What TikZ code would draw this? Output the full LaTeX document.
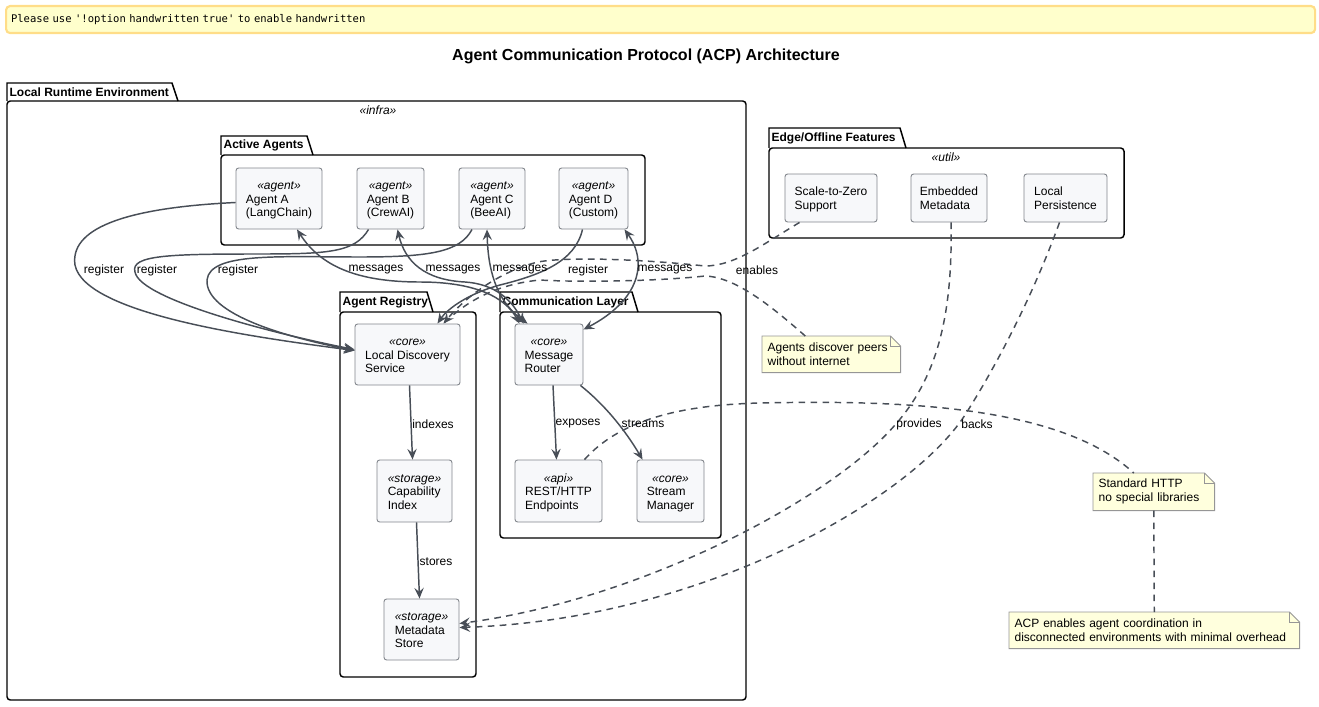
\documentclass[tikz,border=0pt]{standalone}
\usepackage{fontspec}
\setmainfont{Liberation Sans}
\newfontfamily\bannerfont{DejaVu Sans Mono}
\usetikzlibrary{arrows.meta,calc,backgrounds}
\definecolor{edgecol}{RGB}{72,78,87}
\definecolor{compfill}{RGB}{247,248,250}
\definecolor{compdraw}{RGB}{130,134,140}
\definecolor{notefill}{RGB}{255,255,221}
\definecolor{notedraw}{RGB}{150,150,150}
\definecolor{bannerfill}{RGB}{255,255,204}
\definecolor{bannerdraw}{RGB}{255,221,136}
\newcommand\stereo[2]{\raisebox{-1.5pt}[\height][\depth]{\begin{tabular}{@{}l@{}}\multicolumn{1}{@{}c@{}}{\itshape «#1»}\\#2\end{tabular}}}
\newcommand\twol[1]{\raisebox{-1.5pt}[\height][\depth]{\begin{tabular}{@{}l@{}}#1\end{tabular}}}
\newcommand\pkgbox[8]{%
  \draw[pkgline] (#2,#5) -- (#2,#3) -- ({#4-6},#3) -- (#4,#5);
  \draw[pkgline,rounded corners=2.5] (#2,#5) rectangle (#6,#7);
  \node[pkglabel,anchor=west] (#1) at ({#2+1},{(#3+#5)/2}) {#8};}
\newcommand\notefold[1]{%
  \begin{scope}[on background layer]
  \draw[draw=notedraw,fill=notefill,line width=0.7pt] (#1.north west) -- ($(#1.north east)+(-10,0)$) -- ($(#1.north east)+(0,10)$) -- (#1.south east) -- (#1.south west) -- cycle;
  \draw[draw=notedraw,line width=0.7pt] ($(#1.north east)+(-10,0)$) -- ($(#1.north east)+(-10,10)$) -- ($(#1.north east)+(0,10)$);
  \end{scope}}
\begin{document}
\begin{tikzpicture}[x=0.75pt,y=-0.75pt,
  pkgline/.style={draw=black,line width=1.1pt},
  pkglabel/.style={font=\bfseries\fontsize{9}{11}\selectfont,inner sep=1pt},
  comp/.style={draw=compdraw,fill=compfill,line width=0.7pt,rounded corners=2pt,inner sep=0pt,font=\fontsize{9}{10.2}\selectfont},
  lbl/.style={font=\fontsize{9}{11}\selectfont,inner sep=1pt},
  stereolbl/.style={font=\itshape\fontsize{9}{11}\selectfont,inner sep=1pt},
  conn/.style={draw=edgecol,line width=1.1pt},
  dconn/.style={conn,dash pattern=on 5pt off 4pt},
  arr/.style={-{Stealth[length=8pt,width=7pt,inset=3pt]}},
  barr/.style={{Stealth[length=8pt,width=7pt,inset=3pt]}-{Stealth[length=8pt,width=7pt,inset=3pt]}},
  notebox/.style={anchor=north west,inner xsep=4pt,inner ysep=0pt,align=left,font=\fontsize{9}{10.5}\selectfont}
]
\useasboundingbox (0,0) rectangle (1319,706);

% banner
\node[draw=bannerdraw,fill=bannerfill,line width=1.6pt,rounded corners=3pt,anchor=north west,
  minimum height=20.25pt,text width=974.25pt,inner xsep=3.75pt,align=left,
  font=\bannerfont\fontsize{7.9}{9}\selectfont] (banner) at (5,5)
  {Please use '!option handwritten true' to enable handwritten};

% title
\node[font=\bfseries\fontsize{12}{14}\selectfont] (title) at (646,56) {Agent Communication Protocol (ACP) Architecture};

% packages
\pkgbox{pkgLocal}{7}{83}{178}{101}{746}{700}{Local Runtime Environment}
\node[stereolbl] (infra) at (378,110) {«infra»};
\pkgbox{pkgAgents}{221}{136}{313}{155}{645}{245}{Active Agents}
\pkgbox{pkgReg}{340}{292}{433}{312}{476}{677}{Agent Registry}
\pkgbox{pkgComm}{500}{292}{638}{312}{721}{538}{Communication Layer}
\pkgbox{pkgEdge}{769}{128}{906}{148}{1124}{238}{Edge/Offline Features}
\node[stereolbl] (util) at (946,157) {«util»};

% components
\node[comp,minimum width=64.5pt,minimum height=45.75pt] (agA) at (279,198.5) {\stereo{agent}{Agent A\\(LangChain)}};
\node[comp,minimum width=50.25pt,minimum height=45.75pt] (agB) at (390.5,198.5) {\stereo{agent}{Agent B\\(CrewAI)}};
\node[comp,minimum width=49.5pt,minimum height=45.75pt] (agC) at (492,198.5) {\stereo{agent}{Agent C\\(BeeAI)}};
\node[comp,minimum width=51.75pt,minimum height=45.75pt] (agD) at (593.5,198.5) {\stereo{agent}{Agent D\\(Custom)}};

\node[comp,minimum width=78.75pt,minimum height=45.75pt] (lds) at (407.5,354.5) {\stereo{core}{Local Discovery\\Service}};
\node[comp,minimum width=56.25pt,minimum height=46.5pt] (capidx) at (414.5,491) {\stereo{storage}{Capability\\Index}};
\node[comp,minimum width=56.25pt,minimum height=45.75pt] (meta) at (421.5,629.5) {\stereo{storage}{Metadata\\Store}};

\node[comp,minimum width=51pt,minimum height=45.75pt] (router) at (549,354.5) {\stereo{core}{Message\\Router}};
\node[comp,minimum width=65.25pt,minimum height=46.5pt] (rest) at (558.5,491) {\stereo{api}{REST/HTTP\\Endpoints}};
\node[comp,minimum width=50.25pt,minimum height=46.5pt] (stream) at (670.5,491) {\stereo{core}{Stream\\Manager}};

\node[comp,minimum width=69pt,minimum height=36pt] (scale) at (831,198) {\twol{Scale-to-Zero\\Support}};
\node[comp,minimum width=57pt,minimum height=36pt] (emb) at (949,198) {\twol{Embedded\\Metadata}};
\node[comp,minimum width=62.25pt,minimum height=36pt] (lp) at (1065.5,198) {\twol{Local\\Persistence}};

% notes
\node[notebox,minimum width=103.5pt,minimum height=27pt,text width=95.5pt] (note1) at (762,336) {Agents discover peers\\without internet};
\notefold{note1}
\node[notebox,minimum width=90.75pt,minimum height=27.75pt,text width=82.75pt] (note2) at (1093,473) {Standard HTTP\\no special libraries};
\notefold{note2}
\node[notebox,minimum width=217.5pt,minimum height=27pt,text width=209.5pt] (note3) at (1009,612) {ACP enables agent coordination in\\disconnected environments with minimal overhead};
\notefold{note3}

% register edges
\draw[conn,arr] ($(agA.west)+(0,4)$) .. controls (120,208) and (70,230) .. (75,265) .. controls (85,315) and (260,338) .. ($(lds.west)+(0,-4)$);
\draw[conn,arr] ($(agB.south)+(-22,0)$) .. controls (355,252) and (330,254) .. (260,254) .. controls (170,254) and (130,255) .. (135,272) .. controls (140,300) and (280,335) .. ($(lds.west)+(0,-5)$);
\draw[conn,arr] ($(agC.south)+(-20,0)$) .. controls (460,252) and (430,257) .. (360,257) .. controls (280,257) and (210,252) .. (207,280) .. controls (205,315) and (290,338) .. ($(lds.west)+(0,-4)$);
\draw[conn,arr] ($(agD.south)+(-11,0)$) .. controls (575,262) and (540,275) .. (500,285) .. controls (470,293) and (448,308) .. ($(lds.north)+(30,0)$);

% messages edges
\draw[conn,barr] ($(agA.south)+(18,0)$) .. controls (320,265) and (355,282) .. (420,282) .. controls (475,282) and (505,297) .. ($(router.north west)+(5,0)$);
\draw[conn,barr] ($(agB.south)+(7,0)$) .. controls (405,262) and (425,280) .. (465,282) .. controls (495,284) and (512,300) .. ($(router.north west)+(9,0)$);
\draw[conn,barr] ($(agC.south)+(-5,0)$) .. controls (488,268) and (495,300) .. ($(router.north west)+(13,0)$);
\draw[conn,barr] ($(agD.south)+(31,0)$) .. controls (648,262) and (640,300) .. ($(router.north east)+(0,6)$);

% internal edges
\draw[conn,arr] ($(lds.south)+(2,0)$) -- ($(capidx.north)+(-2,0)$);
\draw[conn,arr] ($(capidx.south)+(2,0)$) -- ($(meta.north)+(-2,0)$);
\draw[conn,arr] ($(router.south)+(4,0)$) -- ($(rest.north)+(-2,0)$);
\draw[conn,arr] ($(router.south east)+(-3,0)$) .. controls (605,405) and (625,430) .. ($(stream.north west)+(6,0)$);

% dashed edges
\draw[dconn,arr] ($(scale.south west)+(15,0)$) .. controls (765,243) and (735,266) .. (705,266) .. controls (650,260) and (570,256) .. (538,262) .. controls (505,270) and (470,292) .. ($(lds.north)+(36,0)$);
\draw[dconn] ($(note1.north)+(-26,0)$) .. controls (770,305) and (735,277) .. (705,276) .. controls (650,282) and (570,282) .. (540,280) .. controls (500,284) and (470,298) .. ($(lds.north)+(36,0)$);
\draw[dconn,arr] ($(emb.south)+(2,0)$) .. controls (953,320) and (935,380) .. (895,425) .. controls (830,500) and (640,600) .. ($(meta.east)+(0,-6)$);
\draw[dconn,arr] ($(lp.south)+(-6,0)$) .. controls (1035,290) and (1000,360) .. (965,415) .. controls (910,500) and (700,620) .. ($(meta.east)+(0,-2)$);
\draw[dconn] ($(rest.north)+(26,0)$) .. controls (620,420) and (680,405) .. (760,403) .. controls (900,400) and (1060,405) .. ($(note2.north)+(-20,0)$);
\draw[dconn] (note2.south) -- (note3.north);

% labels
\node[lbl] (l1) at (104,270) {register};
\node[lbl] (l2) at (157,270) {register};
\node[lbl] (l3) at (238,270) {register};
\node[lbl] (l4) at (588,270) {register};
\node[lbl] (m1) at (376,270) {messages};
\node[lbl] (m2) at (453,270) {messages};
\node[lbl] (m3) at (520,270) {messages};
\node[lbl] (m4) at (665,270) {messages};
\node[lbl] (l5) at (757,270) {enables};
\node[lbl] (l6) at (433,424) {indexes};
\node[lbl] (l7) at (436,562) {stores};
\node[lbl] (l8) at (578,424) {exposes};
\node[lbl] (l9) at (643,424) {streams};
\node[lbl] (l10) at (919,424) {provides};
\node[lbl] (l11) at (977,424) {backs};
\end{tikzpicture}
\end{document}
